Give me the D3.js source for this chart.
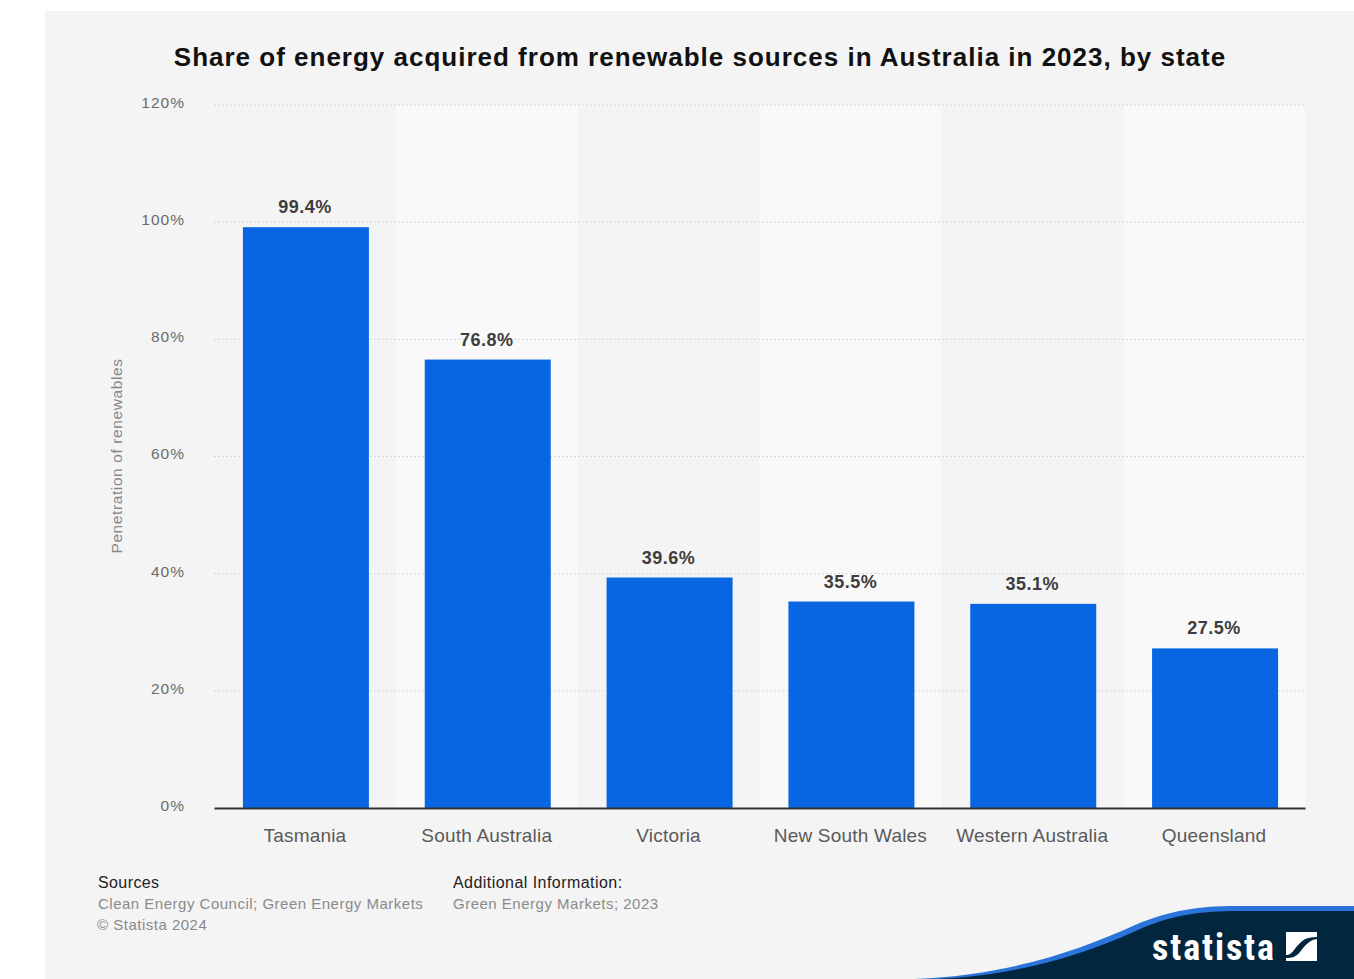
<!DOCTYPE html>
<html>
<head>
<meta charset="utf-8">
<script src="https://cdn.jsdelivr.net/npm/d3@7/dist/d3.min.js"></script>
<style>
  html, body { margin: 0; padding: 0; background: #ffffff; }
  svg { display: block; font-family: "Liberation Sans", Arial, Helvetica, sans-serif; }
</style>
</head>
<body>
<svg id="chart" width="1354" height="979"></svg>
<script>
// Renewable share by state, 2023
const states = ["Tasmania", "South Australia", "Victoria", "New South Wales", "Western Australia", "Queensland"];
const shares = [99.4, 76.8, 39.6, 35.5, 35.1, 27.5];
const yTicks = [0, 20, 40, 60, 80, 100, 120];

const svg = d3.select("#chart");
const W = 1354, H = 979;

// Panel background
svg.append("rect").attr("x", 45).attr("y", 11).attr("width", W - 45).attr("height", H - 11).attr("fill", "#f4f4f4");

const plot = { left: 214, right: 1305, top: 105, bottom: 808 };

const x = d3.scaleBand().domain(states).range([plot.left, plot.right]).paddingInner(0).paddingOuter(0);
const y = d3.scaleLinear().domain([0, 120]).range([plot.bottom, plot.top]);

// Alternating column bands
svg.append("g").selectAll("rect").data(states.filter((d, i) => i % 2 === 1)).join("rect")
  .attr("x", d => x(d)).attr("y", plot.top)
  .attr("width", x.bandwidth()).attr("height", plot.bottom - plot.top)
  .attr("fill", "#f9f9f9");

// Title
svg.append("text").attr("x", 700).attr("y", 66).attr("text-anchor", "middle")
  .attr("font-size", 26).attr("font-weight", "bold").attr("fill", "#111").attr("letter-spacing", 1)
  .text("Share of energy acquired from renewable sources in Australia in 2023, by state");

// Grid lines and y tick labels
svg.append("g").selectAll("line").data(yTicks.filter(t => t > 0)).join("line")
  .attr("x1", plot.left).attr("x2", plot.right)
  .attr("y1", d => y(d)).attr("y2", d => y(d))
  .attr("stroke", "#d6d6d6").attr("stroke-width", 1).attr("stroke-dasharray", "2,2");

const yAxis = d3.axisLeft(y).tickValues(yTicks).tickFormat(d => d + "%").tickSize(0).tickPadding(0);
const yG = svg.append("g").attr("transform", `translate(${plot.left - 29},-2.5)`).call(yAxis);
yG.select(".domain").remove();
yG.selectAll("text").attr("font-size", 15.5).attr("fill", "#6b6b6b").attr("font-family", "\"Liberation Sans\", Arial, sans-serif")
  .attr("letter-spacing", 1);

// Y axis title
svg.append("text").attr("transform", "translate(122,456) rotate(-90)").attr("text-anchor", "middle")
  .attr("font-size", 15.5).attr("fill", "#888").attr("letter-spacing", 0.6).text("Penetration of renewables");

// Bars
const barW = 126;
svg.append("g").selectAll("rect").data(states).join("rect")
  .attr("x", d => x(d) + (x.bandwidth() - barW) / 2 + 1)
  .attr("y", (d, i) => y(shares[i]) + 1.5)
  .attr("width", barW)
  .attr("height", (d, i) => plot.bottom - y(shares[i]) - 1.5)
  .attr("fill", "#0866e3");

// Value labels
svg.append("g").selectAll("text").data(states).join("text")
  .attr("x", d => x(d) + x.bandwidth() / 2)
  .attr("y", (d, i) => y(shares[i]) - 12.5)
  .attr("text-anchor", "middle").attr("font-size", 18).attr("font-weight", "bold").attr("fill", "#3d3d3d")
  .attr("letter-spacing", 0.5)
  .text((d, i) => shares[i].toFixed(1) + "%");

// X axis
const xAxis = d3.axisBottom(x).tickSize(0).tickPadding(21);
const xG = svg.append("g").attr("transform", `translate(0,${plot.bottom})`).call(xAxis);
xG.select(".domain").attr("stroke", "#333").attr("stroke-width", 2);
xG.selectAll("text").attr("font-size", 19).attr("fill", "#5a5a5a").attr("font-family", "\"Liberation Sans\", Arial, sans-serif")
  .attr("letter-spacing", 0.2);

// Footer
const foot = svg.append("g").attr("font-size", 15);
foot.append("text").attr("x", 98).attr("y", 888).attr("fill", "#222").attr("font-size", 16).attr("letter-spacing", 0.4).text("Sources");
foot.append("text").attr("x", 98).attr("y", 909).attr("fill", "#8a8a8a").attr("letter-spacing", 0.5).text("Clean Energy Council; Green Energy Markets");
foot.append("text").attr("x", 97).attr("y", 930).attr("fill", "#8a8a8a").attr("letter-spacing", 0.5).text("© Statista 2024");
foot.append("text").attr("x", 453).attr("y", 888).attr("fill", "#222").attr("font-size", 16).attr("letter-spacing", 0.45).text("Additional Information:");
foot.append("text").attr("x", 453).attr("y", 909).attr("fill", "#8a8a8a").attr("letter-spacing", 0.5).text("Green Energy Markets; 2023");

// Brand corner
const brand = svg.append("g");
const wave = "M 915 979 C 1010 975, 1080 950, 1135 925 C 1170 910, 1200 906, 1235 906 L 1354 906 L 1354 979 Z";
brand.append("path").attr("d", wave).attr("fill", "#2a74da");
brand.append("path").attr("d", "M 935 979 C 1025 975, 1090 952, 1140 929 C 1175 914, 1203 911, 1238 911 L 1354 911 L 1354 979 Z")
  .attr("fill", "#03263f");
brand.append("text").attr("x", 1152).attr("y", 960).attr("fill", "#fff").attr("font-size", 36).attr("font-weight", "bold")
  .attr("font-family", "\"Liberation Sans Narrow\", \"Roboto Condensed\", \"Liberation Sans\", sans-serif").attr("textLength", 122)
  .text("statista");
// logo mark
brand.append("path").attr("d", "M 1286 932 L 1317 932 L 1317 937 C 1305 937, 1302 940, 1294 950 C 1290 955, 1288 955, 1286 955 Z").attr("fill", "#fff");
brand.append("path").attr("d", "M 1286 961 L 1317 961 L 1317 939 C 1310 940, 1306 944, 1300 952 C 1296 957, 1292 958, 1286 958 Z").attr("fill", "#fff");
</script>
</body>
</html>
